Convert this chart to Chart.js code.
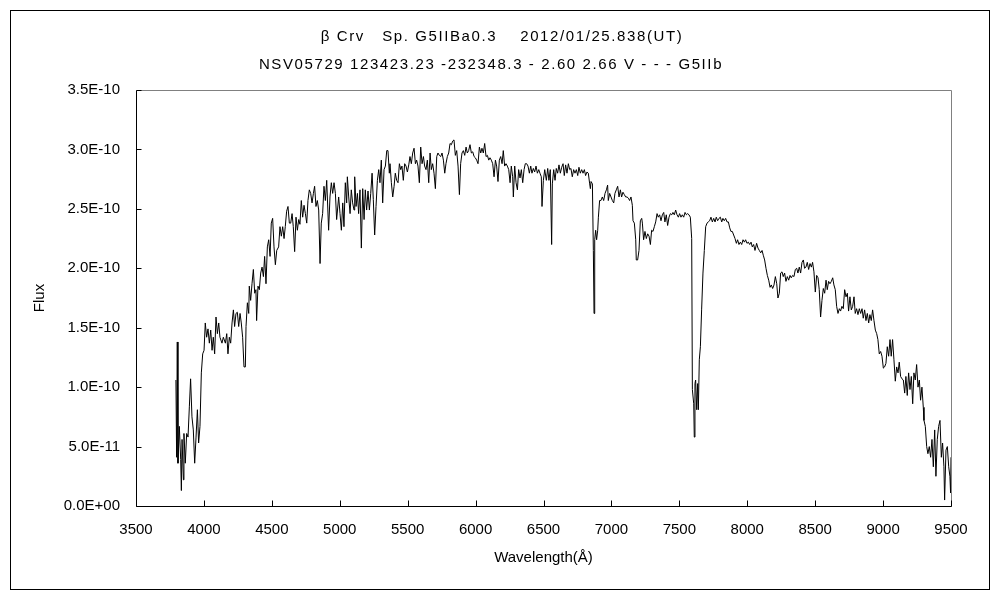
<!DOCTYPE html>
<html>
<head>
<meta charset="utf-8">
<script src="https://cdn.jsdelivr.net/npm/chart.js@4.4.1/dist/chart.umd.min.js"></script>
<style>
  html, body { margin: 0; padding: 0; background: #fff; }
</style>
</head>
<body>
<canvas id="spec" width="1000" height="600"></canvas>
<script>
// Titles
const titleLine1 = 'β Crv   Sp. G5IIBa0.3    2012/01/25.838(UT)';
const titleLine2 = 'NSV05729 123423.23 -232348.3 - 2.60 2.66 V - - - G5IIb';

// Axis ticks
const xTickValues = [3500, 4000, 4500, 5000, 5500, 6000, 6500, 7000, 7500, 8000, 8500, 9000, 9500];
const yTickValues = [0, 0.5e-10, 1.0e-10, 1.5e-10, 2.0e-10, 2.5e-10, 3.0e-10, 3.5e-10];

// Spectrum. Wavelength in Angstrom, flux in units of 1E-10
const wave1 = [
  3794, 3799, 3804, 3809, 3819, 3829, 3834, 3839, 3849, 3853,
  3863, 3873, 3883, 3893, 3902, 3912, 3922, 3932, 3942, 3952,
  3961, 3971, 3981, 3991, 4001, 4010, 4020, 4030, 4040, 4050,
  4060, 4069, 4079, 4089, 4099, 4109, 4118, 4133, 4143, 4158,
  4168, 4177, 4187, 4197, 4207, 4217, 4226, 4236, 4246, 4256,
  4266, 4275, 4285, 4295, 4305, 4310, 4320, 4330, 4334, 4344,
  4354, 4364, 4374, 4383, 4388, 4398, 4408, 4418, 4428, 4438,
  4447, 4457, 4467, 4477, 4487, 4496, 4506, 4516, 4526, 4536,
  4550, 4560, 4570, 4580, 4590, 4599, 4609, 4619, 4629, 4639,
  4649, 4658, 4668, 4678, 4688, 4698, 4707, 4717, 4727, 4737,
  4747, 4757, 4766, 4776, 4786, 4796, 4806, 4815, 4825, 4835,
  4845, 4855, 4864, 4874, 4884, 4894, 4904, 4918, 4928, 4938,
  4948, 4958, 4968, 4977, 4992
];
const flux1 = [
  1.06, 0.41, 1.38, 0.36, 0.67, 0.39, 0.13, 0.56, 0.22, 0.61,
  0.36, 0.61, 0.58, 0.84, 1.07, 0.75, 0.64, 0.36, 0.58, 0.81,
  0.53, 0.67, 1.12, 1.28, 1.31, 1.54, 1.42, 1.49, 1.37, 1.48,
  1.31, 1.42, 1.28, 1.59, 1.45, 1.54, 1.42, 1.37, 1.42, 1.37,
  1.45, 1.28, 1.42, 1.37, 1.54, 1.65, 1.51, 1.62, 1.63, 1.51,
  1.62, 1.54, 1.42, 1.17, 1.17, 1.51, 1.71, 1.62, 1.85, 1.73,
  1.87, 1.99, 1.79, 1.82, 1.56, 1.85, 1.82, 1.96, 2.01, 1.93,
  2.10, 1.87, 2.18, 2.24, 2.10, 2.38, 2.42, 2.18, 2.03, 2.15,
  2.18, 2.35, 2.27, 2.35, 2.25, 2.35, 2.48, 2.52, 2.38, 2.38,
  2.46, 2.35, 2.14, 2.43, 2.32, 2.41, 2.37, 2.57, 2.43, 2.53,
  2.46, 2.38, 2.57, 2.66, 2.63, 2.55, 2.63, 2.69, 2.52, 2.57,
  2.49, 2.04, 2.38, 2.46, 2.69, 2.57, 2.74, 2.32, 2.60, 2.72,
  2.63, 2.72, 2.63, 2.41, 2.60
];

const wave2 = [
  5002, 5012, 5022, 5031, 5041, 5051, 5056, 5066, 5076, 5085,
  5095, 5105, 5110, 5120, 5130, 5139, 5149, 5159, 5169, 5179,
  5188, 5198, 5208, 5218, 5228, 5238, 5247, 5257, 5267, 5277,
  5287, 5296, 5306, 5316, 5326, 5336, 5346, 5355, 5365, 5370,
  5380, 5390, 5400, 5409, 5419, 5429, 5439, 5449, 5458, 5468,
  5478, 5488, 5498, 5508, 5517, 5527, 5537, 5547, 5557, 5566,
  5576, 5586, 5596, 5606, 5616, 5625, 5635, 5645, 5655, 5665,
  5674, 5684, 5694, 5704, 5714, 5723, 5733, 5743, 5753, 5763,
  5773, 5782, 5792, 5802, 5812, 5822, 5831, 5841, 5851, 5861,
  5871, 5881, 5890, 5900, 5910, 5920, 5930, 5939, 5949, 5959,
  5969, 5979, 5989, 5998, 6008, 6018, 6028, 6038, 6047, 6057,
  6067, 6077, 6087, 6097, 6106, 6116, 6126, 6136, 6146, 6155,
  6165, 6175, 6185, 6195, 6204, 6214, 6224, 6234, 6244, 6254,
  6263, 6273, 6278, 6288, 6298, 6308, 6317, 6327, 6337, 6347,
  6357, 6366, 6376, 6386, 6396, 6406, 6415, 6425, 6435, 6445,
  6455, 6465, 6474, 6484, 6489, 6499, 6509
];
const flux2 = [
  2.46, 2.32, 2.55, 2.35, 2.72, 2.55, 2.77, 2.60, 2.46, 2.66,
  2.55, 2.49, 2.77, 2.52, 2.63, 2.46, 2.66, 2.17, 2.67, 2.41,
  2.66, 2.49, 2.65, 2.49, 2.63, 2.80, 2.58, 2.28, 2.52, 2.74,
  2.83, 2.72, 2.91, 2.55, 2.83, 2.86, 2.99, 2.99, 2.80, 2.88,
  2.72, 2.60, 2.69, 2.80, 2.74, 2.72, 2.88, 2.83, 2.86, 2.74,
  2.88, 2.86, 2.81, 2.87, 2.94, 2.88, 2.97, 3.01, 2.88, 2.91,
  2.86, 2.72, 3.02, 2.88, 2.94, 2.86, 2.83, 2.91, 2.72, 2.97,
  2.83, 2.88, 2.80, 2.67, 2.94, 2.97, 2.95, 2.94, 2.97, 2.91,
  2.80, 2.88, 2.94, 2.97, 3.05, 3.04, 3.07, 3.08, 2.95, 2.99,
  2.86, 2.62, 2.88, 2.97, 2.99, 2.95, 3.02, 2.97, 2.99, 3.04,
  2.97, 2.98, 2.94, 2.93, 2.91, 2.88, 3.02, 2.97, 3.01, 2.97,
  3.05, 2.94, 2.95, 2.91, 2.93, 2.91, 2.88, 2.77, 2.91, 2.86,
  2.73, 2.91, 2.94, 2.88, 2.99, 2.86, 2.88, 2.86, 2.83, 2.72,
  2.86, 2.77, 2.60, 2.86, 2.72, 2.66, 2.83, 2.76, 2.83, 2.72,
  2.83, 2.88, 2.88, 2.86, 2.80, 2.86, 2.80, 2.84, 2.81, 2.86,
  2.80, 2.83, 2.80, 2.77, 2.52, 2.74, 2.83
];

const wave3 = [
  6521, 6531, 6540, 6550, 6560, 6565, 6575, 6585, 6594, 6604,
  6614, 6624, 6634, 6644, 6653, 6663, 6673, 6683, 6693, 6702,
  6712, 6722, 6732, 6742, 6752, 6761, 6771, 6781, 6791, 6801,
  6810, 6820, 6830, 6840, 6845, 6850, 6860, 6867, 6872, 6877,
  6884, 6891, 6899, 6904, 6913, 6923, 6933, 6943, 6953, 6963,
  6972, 6977, 6987, 6997, 7007, 7017, 7026, 7036, 7046, 7056,
  7066, 7075, 7085, 7095, 7105, 7115, 7125, 7134, 7144, 7154,
  7159, 7169, 7179, 7183, 7193, 7203, 7213, 7223, 7228, 7237,
  7247, 7257, 7267, 7277, 7287, 7296, 7306, 7316, 7326, 7336,
  7345, 7355, 7365, 7375, 7385, 7394, 7404, 7414, 7424, 7434,
  7444, 7453, 7463, 7473, 7483, 7493, 7502, 7512, 7522, 7532,
  7542, 7552, 7561, 7571, 7581, 7591, 7596, 7606, 7610, 7615,
  7620, 7628, 7635, 7640, 7647, 7655, 7664, 7674, 7684, 7694,
  7704, 7713, 7723, 7733, 7743, 7753, 7763, 7772, 7782, 7792,
  7802, 7812, 7821, 7831, 7841, 7851, 7861, 7871, 7880, 7890,
  7900, 7910, 7920, 7929, 7939, 7949, 7959, 7969, 7979, 7988,
  7998, 8008, 8018, 8028, 8037, 8047, 8057
];
const flux3 = [
  2.74, 2.84, 2.74, 2.83, 2.20, 2.71, 2.83, 2.74, 2.84, 2.80,
  2.87, 2.80, 2.85, 2.88, 2.78, 2.87, 2.80, 2.88, 2.83, 2.84,
  2.77, 2.83, 2.80, 2.83, 2.78, 2.85, 2.80, 2.83, 2.80, 2.83,
  2.78, 2.81, 2.80, 2.71, 2.67, 2.73, 2.71, 2.15, 1.62, 2.24,
  2.32, 2.24, 2.32, 2.43, 2.57, 2.57, 2.60, 2.57, 2.63, 2.66,
  2.70, 2.57, 2.63, 2.60, 2.57, 2.55, 2.63, 2.66, 2.69, 2.60,
  2.66, 2.60, 2.64, 2.62, 2.60, 2.60, 2.59, 2.57, 2.60, 2.53,
  2.40, 2.38, 2.24, 2.07, 2.07, 2.15, 2.40, 2.42, 2.38, 2.24,
  2.31, 2.25, 2.29, 2.27, 2.20, 2.32, 2.31, 2.35, 2.39, 2.46,
  2.43, 2.45, 2.40, 2.45, 2.47, 2.39, 2.45, 2.36, 2.43, 2.46,
  2.45, 2.47, 2.45, 2.49, 2.45, 2.43, 2.46, 2.43, 2.45, 2.43,
  2.47, 2.45, 2.46, 2.45, 2.43, 2.25, 0.98, 0.86, 0.58, 1.03,
  1.06, 0.81, 1.03, 0.81, 1.23, 1.34, 1.65, 1.96, 2.15, 2.35,
  2.38, 2.39, 2.40, 2.43, 2.39, 2.42, 2.39, 2.43, 2.40, 2.42,
  2.43, 2.39, 2.42, 2.40, 2.42, 2.39, 2.39, 2.34, 2.31, 2.31,
  2.28, 2.25, 2.21, 2.24, 2.20, 2.22, 2.20, 2.24, 2.22, 2.24,
  2.21, 2.22, 2.20, 2.22, 2.18, 2.20, 2.15
];

const wave4 = [
  8069, 8079, 8089, 8099, 8109, 8118, 8128, 8138, 8148, 8158,
  8168, 8177, 8187, 8197, 8207, 8217, 8226, 8236, 8246, 8256,
  8265, 8275, 8285, 8295, 8305, 8315, 8324, 8334, 8344, 8354,
  8364, 8373, 8383, 8393, 8403, 8413, 8422, 8432, 8442, 8452,
  8462, 8472, 8481, 8491, 8501, 8511, 8521, 8530, 8540, 8550,
  8560, 8570, 8580, 8589, 8599, 8609, 8619, 8629, 8638, 8648,
  8658, 8668, 8678, 8687, 8697, 8707, 8717, 8727, 8737, 8746,
  8756, 8766, 8776, 8786, 8795, 8805, 8815, 8825, 8835, 8845,
  8854, 8864, 8874, 8884, 8894, 8903, 8913, 8923, 8933, 8943,
  8953, 8962, 8972, 8982, 8992, 9002, 9011, 9021, 9031, 9041,
  9051, 9060, 9070, 9080, 9090, 9100, 9110, 9119, 9129, 9139,
  9149, 9159, 9168, 9178, 9188, 9198, 9208, 9218, 9227, 9237,
  9247, 9257, 9267, 9276, 9286, 9296, 9301, 9311, 9321, 9330,
  9340, 9350, 9360, 9370, 9380, 9389, 9399, 9409, 9419, 9429,
  9438, 9448, 9453, 9463, 9473, 9483, 9492, 9497, 9500
];
const flux4 = [
  2.21, 2.17, 2.15, 2.13, 2.15, 2.11, 2.07, 2.00, 1.94, 1.90,
  1.84, 1.86, 1.83, 1.86, 1.93, 1.87, 1.75, 1.79, 1.96, 1.97,
  1.93, 1.96, 1.89, 1.93, 1.90, 1.94, 1.92, 1.94, 1.93, 1.99,
  2.00, 1.96, 2.01, 1.96, 2.05, 2.07, 2.00, 2.01, 2.05, 1.99,
  2.04, 2.01, 2.05, 1.97, 1.80, 1.94, 1.92, 1.82, 1.59, 1.73,
  1.83, 1.79, 1.90, 1.82, 1.89, 1.87, 1.89, 1.92, 1.86, 1.82,
  1.68, 1.62, 1.66, 1.64, 1.68, 1.66, 1.82, 1.76, 1.79, 1.64,
  1.76, 1.65, 1.68, 1.76, 1.62, 1.66, 1.61, 1.66, 1.62, 1.66,
  1.58, 1.65, 1.56, 1.62, 1.54, 1.61, 1.56, 1.65, 1.56, 1.48,
  1.45, 1.40, 1.28, 1.30, 1.26, 1.16, 1.17, 1.20, 1.34, 1.26,
  1.40, 1.26, 1.40, 1.23, 1.05, 1.17, 1.12, 1.21, 1.09, 1.07,
  1.06, 0.95, 1.09, 0.93, 1.12, 0.98, 1.09, 0.86, 1.12, 1.06,
  1.19, 1.00, 1.06, 0.89, 1.00, 0.83, 0.72, 0.67, 0.50, 0.44,
  0.50, 0.41, 0.56, 0.33, 0.64, 0.25, 0.56, 0.67, 0.72, 0.41,
  0.53, 0.33, 0.05, 0.47, 0.50, 0.33, 0.25, 0.11, 0.41
];

const wavelength = [...wave1, ...wave2, ...wave3, ...wave4];
const fluxE10 = [...flux1, ...flux2, ...flux3, ...flux4];

const FONT = "'Liberation Sans', 'DejaVu Sans', sans-serif";

// 3.5E-10 style labels
function sciLabel(v) {
    const s = Number(v).toExponential(1).toUpperCase();
    const parts = s.split('E');
    const e = parseInt(parts[1], 10);
    return parts[0] + 'E' + (e < 0 ? '-' : '+') + String(Math.abs(e)).padStart(2, '0');
}

// frame, inward ticks, outer border and the two title lines
const framePlugin = {
    id: 'frame',
    afterDraw(chart) {
        const ctx = chart.ctx;
        const a = chart.chartArea;
        const xs = chart.scales.x;
        const ys = chart.scales.y;
        const L = Math.round(a.left) + 0.5;
        const R = Math.round(a.right) + 0.5;
        const T = Math.round(a.top) + 0.5;
        const B = Math.round(a.bottom) + 0.5;
        ctx.save();
        ctx.lineWidth = 1;

        ctx.strokeStyle = '#000';
        ctx.strokeRect(10.5, 10.5, 979, 579);

        ctx.strokeStyle = '#808080';
        ctx.beginPath();
        ctx.moveTo(L, T);
        ctx.lineTo(R, T);
        ctx.lineTo(R, B);
        ctx.stroke();

        ctx.strokeStyle = '#000';
        ctx.beginPath();
        ctx.moveTo(L, T);
        ctx.lineTo(L, B);
        ctx.lineTo(R, B);
        ctx.stroke();

        ctx.beginPath();
        yTickValues.forEach(v => {
            const py = Math.round(ys.getPixelForValue(v)) + 0.5;
            ctx.moveTo(L, py);
            ctx.lineTo(L + 5, py);
        });
        xTickValues.forEach(v => {
            const px = Math.round(xs.getPixelForValue(v)) + 0.5;
            ctx.moveTo(px, B);
            ctx.lineTo(px, B - 6);
        });
        ctx.stroke();

        ctx.fillStyle = '#000';
        ctx.font = '15px ' + FONT;
        ctx.textAlign = 'center';
        ctx.textBaseline = 'middle';
        ctx.letterSpacing = '1.6px';
        ctx.fillText(titleLine1, 502, 37);
        ctx.fillText(titleLine2, 491, 65);
        ctx.restore();
    }
};

const ctx = document.getElementById('spec').getContext('2d');
new Chart(ctx, {
    type: 'scatter',
    data: {
        datasets: [{
            label: 'Flux',
            data: wavelength.map((w, i) => ({ x: w, y: fluxE10[i] * 1e-10 })),
            showLine: true,
            borderColor: '#000',
            borderWidth: 1,
            pointRadius: 0,
            tension: 0,
            fill: false
        }]
    },
    options: {
        responsive: false,
        animation: false,
        devicePixelRatio: 1,
        layout: { padding: { left: 0, top: 90, right: 49, bottom: 0 } },
        plugins: {
            legend: { display: false },
            tooltip: { enabled: false }
        },
        scales: {
            x: {
                type: 'linear',
                min: 3500,
                max: 9500,
                afterBuildTicks: s => { s.ticks = xTickValues.map(v => ({ value: v })); },
                afterFit: s => { s.height = 94; },
                grid: { display: false, drawTicks: false },
                border: { display: false },
                ticks: {
                    color: '#000',
                    padding: 15,
                    maxRotation: 0,
                    autoSkip: false,
                    font: { family: FONT, size: 15 },
                    callback: v => String(v)
                },
                title: {
                    display: true,
                    text: 'Wavelength(Å)',
                    color: '#000',
                    font: { family: FONT, size: 15 },
                    padding: { top: 0, bottom: 33 }
                }
            },
            y: {
                type: 'linear',
                min: 0,
                max: 3.5e-10,
                afterBuildTicks: s => { s.ticks = yTickValues.map(v => ({ value: v })); },
                afterFit: s => { s.width = 136; },
                grid: { display: false, drawTicks: false },
                border: { display: false },
                ticks: {
                    color: '#000',
                    padding: 16,
                    autoSkip: false,
                    font: { family: FONT, size: 15 },
                    callback: v => sciLabel(v)
                },
                title: {
                    display: true,
                    text: 'Flux',
                    color: '#000',
                    font: { family: FONT, size: 15 },
                    padding: { top: 31, bottom: 0 }
                }
            }
        }
    },
    plugins: [framePlugin]
});
</script>
</body>
</html>
